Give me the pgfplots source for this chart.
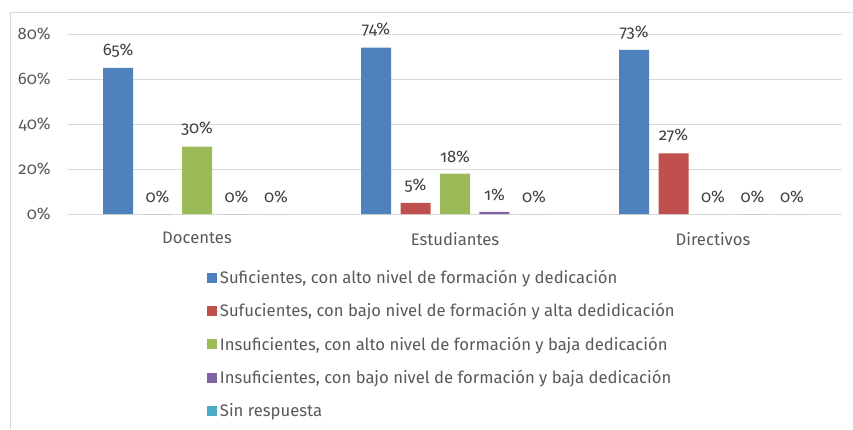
\documentclass[border=0pt]{standalone}
\usepackage{fontspec}
\setmainfont[Numbers=OldStyle]{Fira Sans}
\usepackage{pgfplots}
\pgfplotsset{compat=1.18}
\definecolor{cA}{HTML}{4F81BD}
\definecolor{cB}{HTML}{C0504D}
\definecolor{cC}{HTML}{9BBB59}
\definecolor{cD}{HTML}{8064A2}
\definecolor{cE}{HTML}{4BACC6}
\definecolor{txt}{HTML}{595959}
\definecolor{lbl}{HTML}{404040}
\definecolor{grd}{HTML}{D9D9D9}
\begin{document}
\begin{tikzpicture}[x=1pt,y=1pt]
\draw[grd,line width=0.75pt] (7.5pt,-321.75pt) -- (7.5pt,-9pt) -- (639.75pt,-9pt);
\begin{axis}[
  at={(51pt,-160.5pt)}, anchor=south west,
  scale only axis, width=580.5pt, height=135pt,
  ybar=7.1pt, bar width=22.5pt,
  xmin=-0.5, xmax=2.5, ymin=0, ymax=80,
  xtick={0,1,2}, xticklabels={Docentes,Estudiantes,Directivos},
  ytick={0,20,40,60,80},
  yticklabel={\pgfmathprintnumber{\tick}\%},
  /pgf/number format/assume math mode=true,
  ymajorgrids, grid style={grd, line width=0.75pt},
  axis x line*=bottom, axis y line*=left,
  x axis line style={grd, line width=0.75pt, -},
  y axis line style={draw=none},
  major tick length=0pt,
  tick label style={font=\fontsize{12.5}{14}\selectfont, text=txt},
  yticklabel style={xshift=-9.5pt},
  xticklabel style={yshift=-10pt},
  nodes near coords={\pgfmathprintnumber{\pgfplotspointmeta}\%},
  nodes near coords style={font=\fontsize{12.5}{14}\selectfont, text=lbl, yshift=4.5pt},
  every axis plot/.append style={draw=none},
  legend style={at={(0.1796,-0.295)}, anchor=north west, draw=none, fill=none,
    font=\fontsize{12.5}{14}\selectfont, text=txt, row sep=9.5pt, inner sep=0pt,
    /tikz/every even column/.append style={column sep=3pt}},
  legend cell align=left,
  legend image code/.code={\fill[#1] (0pt,-3.6pt) rectangle (7.5pt,3.9pt);},
]
\addplot[fill=cA] coordinates {(0,65) (1,74) (2,73)};
\addplot[fill=cB] coordinates {(0,0) (1,5) (2,27)};
\addplot[fill=cC] coordinates {(0,30) (1,18) (2,0)};
\addplot[fill=cD] coordinates {(0,0) (1,1) (2,0)};
\addplot[fill=cE] coordinates {(0,0) (1,0) (2,0)};
\legend{{Suficientes, con alto nivel de formación y dedicación},
  {Sufucientes, con bajo nivel de formación y alta dedidicación},
  {Insuficientes, con alto nivel de formación y baja dedicación},
  {Insuficientes, con bajo nivel de formación y baja dedicación},
  {Sin respuesta}}
\end{axis}
\pgfresetboundingbox
\path (0,0) rectangle (639.75pt,-321.75pt);
\end{tikzpicture}
\end{document}
